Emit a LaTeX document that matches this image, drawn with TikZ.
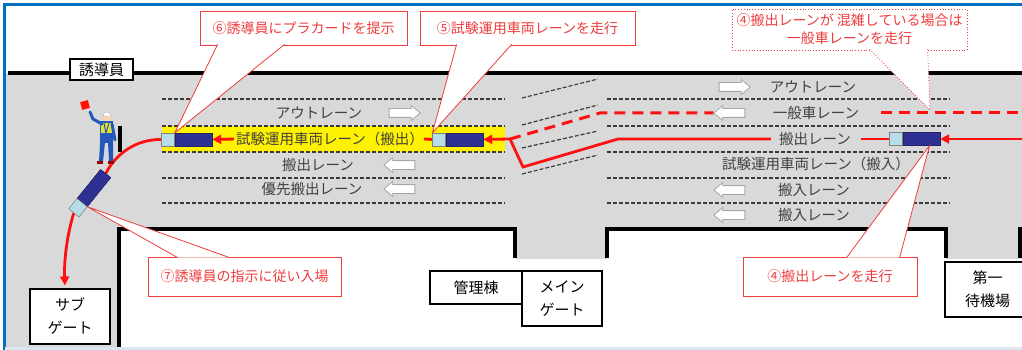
\documentclass[tikz,border=0pt]{standalone}
\usepackage{xcolor}
\usepackage{fontspec}
\setmainfont{Noto Sans CJK JP}
\usetikzlibrary{positioning, calc, arrows.meta, shapes.arrows}
\definecolor{roadgray}{HTML}{D9D9D9}
\definecolor{lanegray}{HTML}{3A3A3A}
\definecolor{labelgray}{HTML}{404040}
\definecolor{busnavy}{HTML}{2E3192}
\definecolor{buslight}{HTML}{B7DEE8}
\definecolor{routered}{HTML}{FF1010}
\definecolor{calloutred}{HTML}{F03C3C}
\definecolor{frameblue}{HTML}{0070C0}
\definecolor{framelight}{HTML}{DCE6F2}
\definecolor{vestyellow}{HTML}{E2E234}
\definecolor{staffblue}{HTML}{2358B8}

\tikzset{
  lane/.style={draw=lanegray, dash pattern=on 4pt off 2pt, line width=1.2pt},
  lanelabel/.style={text=labelgray, font=\fontsize{14.5}{17}\selectfont, inner sep=0pt},
  wall/.style={line width=3.5pt},
  bus/.style={draw=busnavy!70!black, fill=busnavy, minimum width=37pt, minimum height=13pt, inner sep=0pt},
  busfront/.style={draw=gray, fill=buslight, minimum width=13pt, minimum height=13pt, inner sep=0pt},
  route/.style={draw=routered, line width=2.8pt},
  routearrow/.style={route, -{Triangle[length=9pt,width=9pt]}},
  planned/.style={route, dash pattern=on 11pt off 7pt, line width=3pt},
  laneright/.style={single arrow, draw=gray!70, fill=white, line width=0.8pt, inner xsep=0pt, inner ysep=4pt,
    minimum height=31pt, single arrow head extend=3pt, single arrow tip angle=80},
  laneleft/.style={laneright, shape border rotate=180},
  callbox/.style={draw=calloutred, fill=white, text=calloutred, line width=0.8pt, align=center,
    font=\fontsize{14}{18}\selectfont, inner sep=0pt},
  pointer/.style={fill=white, draw=calloutred, line width=0.8pt},
  placebox/.style={draw=black, fill=white, line width=1.2pt, align=center,
    font=\fontsize{15}{23}\selectfont, inner sep=0pt},
}

\begin{document}
\begin{tikzpicture}[x=1pt, y=-1pt]
    \useasboundingbox (0,0) rectangle (1022,350);
    \fill[white] (0,0) rectangle (1022,350);

    % Road surface
    \fill[roadgray] (6,73) -- (1022,73) -- (1022,259) -- (946,259) -- (946,229) -- (607,229)
        -- (607,259) -- (515,259) -- (515,229) -- (119,229) -- (119,347) -- (6,347) -- cycle;
    % Test lane (outbound)
    \fill[yellow] (162,126) rectangle (505,152);

    % Lane markings
    \foreach \y in {99,126,152,178,203} {
        \draw[lane] (162,\y) -- (505,\y);
        \draw[lane] (607,\y) -- (950,\y);
    }
    \foreach \ya/\yb in {98/79,125/105,148/131,174/155}
        \draw[lane] (522,\ya) -- (598,\yb);

    % Lane labels, left block
    \node[lanelabel] (lblOutL) at (319,113) {アウトレーン};
    \node[lanelabel] (lblTestOut) at (330,139) {試験運用車両レーン（搬出）};
    \node[lanelabel] (lblExitL) at (318,165) {搬出レーン};
    \node[lanelabel] (lblPrio) at (312,189) {優先搬出レーン};
    \node[laneright] (arOutL) at (402,113) {};
    \node[laneleft] (arExitL) at (402,165) {};
    \node[laneleft] (arPrio) at (402,189) {};

    % Lane labels, right block
    \node[lanelabel] (lblOutR) at (813,87) {アウトレーン};
    \node[lanelabel] (lblGen) at (816,113) {一般車レーン};
    \node[lanelabel] (lblExitR) at (815,139) {搬出レーン};
    \node[lanelabel] (lblTestIn) at (816,164) {試験運用車両レーン（搬入）};
    \node[lanelabel] (lblInA) at (814,190) {搬入レーン};
    \node[lanelabel] (lblInB) at (814,215) {搬入レーン};
    \node[laneright] (arOutR) at (732,87) {};
    \node[laneleft] (arGen) at (732,113) {};
    \node[laneleft] (arInA) at (732,190) {};
    \node[laneleft] (arInB) at (732,215) {};

    % Vehicles
    \node[bus] (busA) at (193.5,139.5) {};
    \node[busfront, left=0pt of busA] (busAf) {};
    \node[bus] (busB) at (464.5,139.5) {};
    \node[busfront, left=0pt of busB] (busBf) {};
    \node[bus] (busR) at (921.5,139) {};
    \node[busfront, left=0pt of busR] (busRf) {};

    % Route points
    \coordinate (edgeExit) at (1024,139);
    \coordinate (edgeGen) at (1024,113);
    \coordinate (merge) at (618,139);
    \coordinate (dip) at (523,167);
    \coordinate (split) at (510,139);
    \coordinate (climb) at (600,113);
    \coordinate (busyTip) at (930,110);

    % Buildings and gates
    \node[placebox, minimum width=63pt, minimum height=21pt] (guideTag) at (101.5,69.5) {誘導員};
    \node[placebox, minimum width=80pt, minimum height=55pt] (subgate) at (70,316.5) {サブ\\ゲート};
    \node[placebox, minimum width=92pt, minimum height=33pt] (office) at (476,287.5) {管理棟};
    \node[placebox, minimum width=80pt, minimum height=55pt] (maingate) at (562,298.5) {メイン\\ゲート};
    \node[placebox, minimum width=85pt, minimum height=55pt] (waiting) at (987.5,289.5) {第一\\待機場};

    % Turning vehicle
    \node[bus, rotate=51] (busT) at (94,188) {};
    \node[busfront, rotate=51, left=0pt of busT] (busTf) {};

    % Routes
    \draw[routearrow, shorten <=2pt] (lblTestOut.west) -- (busA.east);
    \draw[route] (lblTestOut.east) -- (busBf.west);
    \draw[routearrow, shorten <=8pt] (lblExitR.west) -- (merge) -- (dip) -- (split) -- (busB.east);
    \draw[route, shorten >=10pt] (busRf.west) -- (lblExitR.east);
    \draw[routearrow] (edgeExit) -- (busR.east);
    \draw[planned] (split) -- (climb) -- (arGen.tip);
    \draw[planned, shorten <=22pt] (lblGen.east) -- (edgeGen);
    \draw[route] (busAf.west) .. controls (135,139) and (115,155) .. (busT.east);
    \draw[routearrow, shorten >=3pt] (busTf.west) .. controls (67,235) and (64,260) .. ([xshift=-5pt]subgate.north);

    % redraw vehicles over routes
    \node[bus] at (busA) {};
    \node[busfront] at (busAf) {};
    \node[bus] at (busB) {};
    \node[busfront] at (busBf) {};
    \node[bus] at (busR) {};
    \node[busfront] at (busRf) {};
    \node[bus, rotate=51] at (busT) {};
    \node[busfront, rotate=51] at (busTf) {};

    % Guide staff with flag and placard
    \fill[black] (118,126) rectangle (121.5,152);
    \fill[staffblue] (100,142) -- (105,142) -- (103,162) -- (99,162) -- cycle;
    \fill[staffblue] (108,142) -- (113,142) -- (113,162) -- (109,162) -- cycle;
    \fill[red!60!black] (97,161) rectangle (103,164);
    \fill[red!60!black] (108,161) rectangle (114,164);
    \fill[staffblue] (100,121) rectangle (113,143);
    \fill[vestyellow] (101,123) rectangle (112,133);
    \draw[staffblue, line width=1pt] (104,123) -- (106,133) -- (109,123);
    \draw[staffblue, line width=3pt, line cap=round] (102,124) -- (93,119) -- (90,112);
    \draw[staffblue, line width=3pt, line cap=round] (112,124) -- (115,140);
    \fill[orange!35] (107,117.5) circle (3.8);
    \fill[white, draw=gray!60, line width=0.4pt] (103,116) arc[start angle=180, end angle=360, radius=4] -- cycle;
    \fill[red!85!orange, rotate around={15:(85,105)}] (81,101) rectangle (89,109);

    % Walls
    \draw[wall] (8,73) -- (1022,73);
    \draw[wall] (119,347) -- (119,229) -- (515,229) -- (515,258);
    \draw[wall] (607,258) -- (607,229) -- (946,229) -- (946,258);
    \draw[wall] (1020,258) -- (1020,229) -- (1024,229);
    \node[placebox, minimum width=63pt, minimum height=21pt] at (guideTag) {誘導員};

    % Callouts
    \node[callbox, minimum width=207pt, minimum height=34pt] (c6) at (303.5,28) {⑥誘導員にプラカードを提示};
    \draw[pointer] ([xshift=18pt,yshift=1pt]c6.south west) -- (busAf.north east) -- ([xshift=85pt,yshift=1pt]c6.south west);
    \node[callbox, minimum width=215pt, minimum height=34pt] (c5) at (527.5,28) {⑤試験運用車両レーンを走行};
    \draw[pointer] ([xshift=37pt,yshift=1pt]c5.south west) -- (busBf.north west) -- ([xshift=92pt,yshift=1pt]c5.south west);
    \node[callbox, dotted, minimum width=235pt, minimum height=41pt] (c4a) at (849.5,29.5) {④搬出レーンが 混雑している場合は\\一般車レーンを走行};
    \draw[pointer, dotted] ([xshift=138pt,yshift=1pt]c4a.south west) -- (busyTip) -- ([xshift=196pt,yshift=1pt]c4a.south west);
    \node[callbox, minimum width=193pt, minimum height=39pt] (c7) at (244.5,276.5) {⑦誘導員の指示に従い入場};
    \draw[pointer] ([xshift=30pt,yshift=-1pt]c7.north west) -- (busTf.south east) -- ([xshift=82pt,yshift=-1pt]c7.north west);
    \node[callbox, minimum width=174pt, minimum height=39pt] (c4b) at (830,276.5) {④搬出レーンを走行};
    \draw[pointer] ([xshift=104pt,yshift=-1pt]c4b.north west) -- ([xshift=8pt]busR.south) -- ([xshift=157pt,yshift=-1pt]c4b.north west);

    % Frame
    \draw[frameblue, line width=3pt] (4.5,350) -- (4.5,4.5) -- (1022,4.5);
    \draw[framelight, line width=3pt] (4.5,348.5) -- (1022,348.5);
\end{tikzpicture}
\end{document}
